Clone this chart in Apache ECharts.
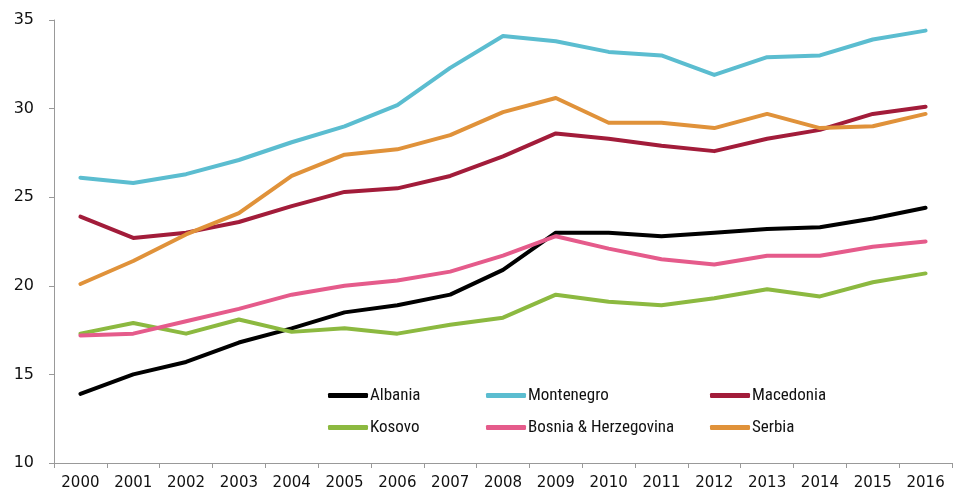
<!DOCTYPE html>
<html>
<head>
<meta charset="utf-8">
<script src="https://cdn.jsdelivr.net/npm/echarts@6/dist/echarts.min.js"></script>
<style>html,body{margin:0;padding:0;background:#fff}#c{width:957px;height:497px}</style>
</head>
<body>
<div id="c"></div>
<script>
const years = ['2000','2001','2002','2003','2004','2005','2006','2007','2008','2009','2010','2011','2012','2013','2014','2015','2016'];
const albania    = [13.9,15.0,15.7,16.8,17.6,18.5,18.9,19.5,20.9,23.0,23.0,22.8,23.0,23.2,23.3,23.8,24.4];
const montenegro = [26.1,25.8,26.3,27.1,28.1,29.0,30.2,32.3,34.1,33.8,33.2,33.0,31.9,32.9,33.0,33.9,34.4];
const macedonia  = [23.9,22.7,23.0,23.6,24.5,25.3,25.5,26.2,27.3,28.6,28.3,27.9,27.6,28.3,28.8,29.7,30.1];
const kosovo     = [17.3,17.9,17.3,18.1,17.4,17.6,17.3,17.8,18.2,19.5,19.1,18.9,19.3,19.8,19.4,20.2,20.7];
const bosnia     = [17.2,17.3,18.0,18.7,19.5,20.0,20.3,20.8,21.7,22.8,22.1,21.5,21.2,21.7,21.7,22.2,22.5];
const serbia     = [20.1,21.4,22.9,24.1,26.2,27.4,27.7,28.5,29.8,30.6,29.2,29.2,28.9,29.7,28.9,29.0,29.7];
const yTicks = [10,15,20,25,30,35];

const seriesDefs = [
  {name:'Albania', data:albania, color:'#000000'},
  {name:'Montenegro', data:montenegro, color:'#5bbdd0'},
  {name:'Macedonia', data:macedonia, color:'#a21c3a'},
  {name:'Kosovo', data:kosovo, color:'#8cb940'},
  {name:'Bosnia & Herzegovina', data:bosnia, color:'#e55b8b'},
  {name:'Serbia', data:serbia, color:'#e0923a'}
];
const legendPos = [
  {left:323, top:382},{left:481, top:382},{left:705, top:382},
  {left:323, top:414},{left:481, top:414},{left:705, top:414}
];
const chart = echarts.init(document.getElementById('c'));
chart.setOption({
  animation:false,
  backgroundColor:'#fff',
  grid:{left:54, right:5, top:20, bottom:34, containLabel:false},
  legend: seriesDefs.map((s,i)=>({
    data:[s.name], left:legendPos[i].left, top:legendPos[i].top,
    icon:'roundRect', itemWidth:40, itemHeight:5, itemGap:0,
    textStyle:{fontFamily:'"Liberation Sans Narrow","Roboto Condensed",Roboto,sans-serif', fontSize:17, color:'#111', padding:[0,0,0,-3]}
  })),
  xAxis:{
    type:'category', data:years, boundaryGap:true,
    axisLine:{lineStyle:{color:'#999', width:1}},
    axisTick:{show:true, length:5, alignWithLabel:false, lineStyle:{color:'#999'}},
    axisLabel:{fontFamily:'"DejaVu Sans",sans-serif', fontSize:15, color:'#111', margin:13, interval:0}
  },
  yAxis:{
    type:'value', min:10, max:35, interval:5,
    splitLine:{show:false},
    axisLine:{show:true, lineStyle:{color:'#999', width:1}},
    axisTick:{show:true, length:5, lineStyle:{color:'#999'}},
    axisLabel:{fontFamily:'"DejaVu Sans",sans-serif', fontSize:16, color:'#111', margin:20}
  },
  series: seriesDefs.map(s=>({
    name:s.name, type:'line', data:s.data, symbol:'none', smooth:false,
    lineStyle:{color:s.color, width:4, cap:'round', join:'round'},
    itemStyle:{color:s.color}
  }))
});
</script>
</body>
</html>
